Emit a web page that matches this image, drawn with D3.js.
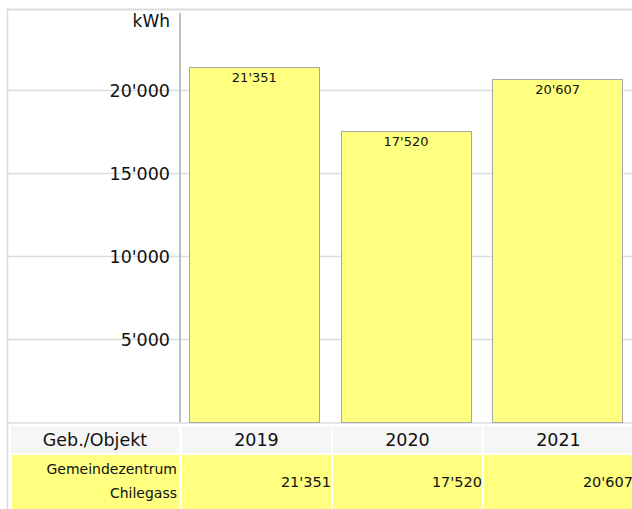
<!DOCTYPE html>
<html>
<head>
<meta charset="utf-8">
<script src="https://cdn.jsdelivr.net/npm/d3@7"></script>
<style>
  body { margin: 0; background: #fff; }
  svg { display: block; font-family: "DejaVu Sans", Verdana, sans-serif; }
</style>
</head>
<body>
<svg width="632" height="509"></svg>
<script>
const years = ["2019", "2020", "2021"];
const values = [21351, 17520, 20607];
const yTicks = [5000, 10000, 15000, 20000];
const rowLabel = ["Gemeindezentrum", "Chilegass"];
const headerLabel = "Geb./Objekt";
const unit = "kWh";

const fmt = function (v) {
  return d3.format(",")(v).replace(/,/g, "'");
};

const svg = d3.select("svg");
const W = 632;
const left = 7, axisX = 180, plotBottom = 422;
const ink = "#111";

const y = d3.scaleLinear().domain([0, 20000]).range([plotBottom, 89.5]);

const x = d3
  .scaleBand()
  .domain(years)
  .range([180, 632])
  .paddingInner(0.14)
  .paddingOuter(0.06);

const col = d3.scaleBand().domain(years).range([181, 634]).padding(0);

// frame
svg.append("line").attr("x1", left).attr("x2", W).attr("y1", 9.5).attr("y2", 9.5)
  .attr("stroke", "#dcdcdc").attr("stroke-width", 2);
svg.append("line").attr("x1", left + 0.5).attr("x2", left + 0.5).attr("y1", 9).attr("y2", 509)
  .attr("stroke", "#dcdcdc").attr("stroke-width", 1.5);

// gridlines
svg.append("g")
  .selectAll("line")
  .data(yTicks)
  .enter()
  .append("line")
  .attr("x1", left)
  .attr("x2", W)
  .attr("y1", function (d) { return Math.round(y(d)) + 0.5; })
  .attr("y2", function (d) { return Math.round(y(d)) + 0.5; })
  .attr("stroke", "#dcdcdc")
  .attr("stroke-width", 1.5);

// bottom line of plot
svg.append("line").attr("x1", left).attr("x2", W).attr("y1", plotBottom + 1).attr("y2", plotBottom + 1)
  .attr("stroke", "#dcdcdc").attr("stroke-width", 1.5);

// y axis
const yAxis = d3.axisLeft(y).tickValues(yTicks).tickSize(0).tickPadding(10).tickFormat(fmt);
const ya = svg.append("g").attr("transform", "translate(" + axisX + ",0)").call(yAxis);
ya.select(".domain").remove();
ya.selectAll("text")
  .attr("font-family", "DejaVu Sans, Verdana, sans-serif")
  .attr("font-size", "17.5px")
  .attr("fill", ink)
  .attr("dy", "0.38em");

svg.append("line").attr("x1", axisX).attr("x2", axisX).attr("y1", 13).attr("y2", plotBottom)
  .attr("stroke", "#bdbdbd").attr("stroke-width", 2);

svg.append("text")
  .attr("x", 170)
  .attr("y", 27)
  .attr("text-anchor", "end")
  .attr("font-size", "17px")
  .attr("fill", ink)
  .text(unit);

// bars
const bars = svg.append("g")
  .selectAll("g")
  .data(years.map(function (yr, i) { return { year: yr, value: values[i] }; }))
  .enter()
  .append("g");

bars.append("rect")
  .attr("x", function (d) { return Math.round(x(d.year)) + 0.5; })
  .attr("y", function (d) { return Math.round(y(d.value)) + 0.5; })
  .attr("width", Math.round(x.bandwidth()))
  .attr("height", function (d) { return plotBottom - Math.round(y(d.value)); })
  .attr("fill", "#ffff80")
  .attr("stroke", "#a8a8a8")
  .attr("stroke-width", 1);

bars.append("text")
  .attr("x", function (d) { return x(d.year) + x.bandwidth() / 2; })
  .attr("y", function (d) { return y(d.value) + 15; })
  .attr("text-anchor", "middle")
  .attr("font-size", "13px")
  .attr("fill", ink)
  .text(function (d) { return fmt(d.value); });

// table header row
const hTop = 426, hH = 27, dTop = 455, dH = 54;
svg.append("rect").attr("x", 11).attr("y", hTop).attr("width", 168).attr("height", hH).attr("fill", "#f6f6f6");
svg.append("text").attr("x", 95).attr("y", hTop + 20).attr("text-anchor", "middle")
  .attr("font-size", "17.5px").attr("fill", ink).text(headerLabel);

svg.append("g").selectAll("rect").data(years).enter().append("rect")
  .attr("x", function (d) { return col(d) + 1; })
  .attr("y", hTop)
  .attr("width", col.bandwidth() - 2)
  .attr("height", hH)
  .attr("fill", "#f6f6f6");

svg.append("g").selectAll("text").data(years).enter().append("text")
  .attr("x", function (d) { return col(d) + col.bandwidth() / 2; })
  .attr("y", hTop + 20)
  .attr("text-anchor", "middle")
  .attr("font-size", "17.5px")
  .attr("fill", ink)
  .text(function (d) { return d; });

// data row
svg.append("rect").attr("x", 12).attr("y", dTop).attr("width", 167).attr("height", dH).attr("fill", "#ffff80");
svg.append("g").selectAll("text").data(rowLabel).enter().append("text")
  .attr("x", 177)
  .attr("y", function (d, i) { return dTop + 19 + i * 24; })
  .attr("text-anchor", "end")
  .attr("font-size", "14px")
  .attr("fill", ink)
  .text(function (d) { return d; });

svg.append("g").selectAll("rect").data(years).enter().append("rect")
  .attr("x", function (d) { return col(d) + 1; })
  .attr("y", dTop)
  .attr("width", col.bandwidth() - 2)
  .attr("height", dH)
  .attr("fill", "#ffff80");

svg.append("g").selectAll("text").data(years).enter().append("text")
  .attr("x", function (d) { return col(d) + col.bandwidth() - 1; })
  .attr("y", dTop + 32)
  .attr("text-anchor", "end")
  .attr("font-size", "14.5px")
  .attr("fill", ink)
  .text(function (d, i) { return fmt(values[i]); });
</script>
</body>
</html>
